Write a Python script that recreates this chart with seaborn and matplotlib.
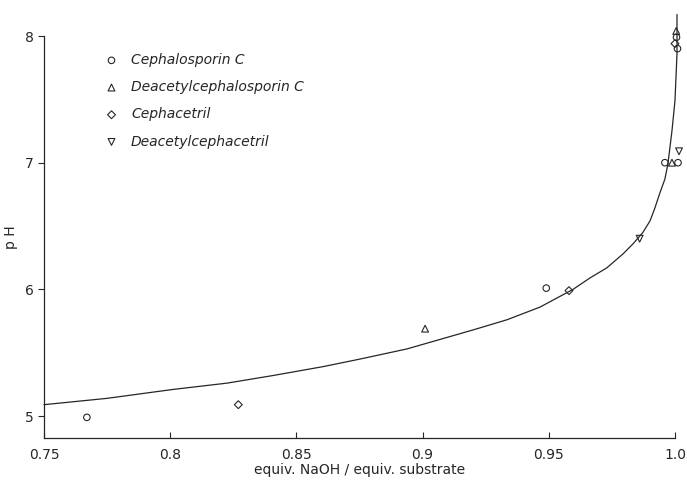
import matplotlib
matplotlib.use("Agg")
import matplotlib.pyplot as plt
import seaborn as sns

# titration curve
curve_x = [0.75, 0.775, 0.801, 0.8225, 0.8407, 0.8605, 0.8752, 0.8938, 0.92, 0.9334,
           0.9465, 0.9596, 0.9663, 0.973, 0.9794, 0.9834, 0.9873, 0.9901, 0.992,
           0.994, 0.996, 0.9972, 0.9988, 1.0, 1.0008, 1.0008]
curve_y = [5.09, 5.14, 5.21, 5.26, 5.32, 5.39, 5.45, 5.53, 5.68, 5.76,
           5.86, 6.0, 6.09, 6.17, 6.28, 6.36, 6.45, 6.54, 6.64,
           6.76, 6.87, 6.99, 7.25, 7.49, 7.86, 8.17]

# measured points
ceph_c_x = [0.767, 0.949, 0.996, 1.0012, 1.0006, 1.001]
ceph_c_y = [4.99, 6.01, 7.0, 7.0, 7.99, 7.90]
deac_c_x = [0.901, 0.9988, 1.0005]
deac_c_y = [5.69, 7.0, 8.04]
cephacetril_x = [0.827, 0.958, 1.0]
cephacetril_y = [5.09, 5.99, 7.94]
deac_cephacetril_x = [0.986, 1.0016]
deac_cephacetril_y = [6.40, 7.09]

xticks = [0.75, 0.8, 0.85, 0.9, 0.95, 1.0]
xtick_labels = ["0.75", "0.8", "0.85", "0.9", "0.95", "1.0"]
yticks = [5, 6, 7, 8]

sns.set_style("ticks")
plt.rcParams['font.family'] = ['DejaVu Sans']
ink = "#262626"

fig = plt.figure(figsize=(6.87, 4.80), dpi=100)
ax = fig.add_axes([0.064, 0.0875, 0.9185, 0.8375])

sns.lineplot(x=curve_x, y=curve_y, sort=False, estimator=None, color=ink,
             linewidth=0.9, ax=ax, clip_on=False)

series = [
    ("Cephalosporin C", ceph_c_x, ceph_c_y, "o", 22),
    ("Deacetylcephalosporin C", deac_c_x, deac_c_y, "^", 24),
    ("Cephacetril", cephacetril_x, cephacetril_y, "D", 16),
    ("Deacetylcephacetril", deac_cephacetril_x, deac_cephacetril_y, "v", 24),
]
for name, xs, ys, mk, sz in series:
    sns.scatterplot(x=xs, y=ys, marker=mk, s=sz, facecolor="none",
                    edgecolor=ink, linewidth=0.8, label=name, ax=ax,
                    clip_on=False, zorder=3)

ax.set_xlim(0.75, 1.0)
ax.set_ylim(4.827, 8.0)
ax.set_xticks(xticks)
ax.set_xticklabels(xtick_labels)
ax.set_yticks(yticks)
ax.tick_params(axis="x", direction="in", length=4, width=0.8, colors=ink,
               labelsize=10, pad=7)
ax.tick_params(axis="y", direction="out", length=4, width=0.8, colors=ink,
               labelsize=10)
sns.despine(ax=ax)
for s in ["left", "bottom"]:
    ax.spines[s].set_linewidth(0.9)
    ax.spines[s].set_color(ink)

ax.set_xlabel("equiv. NaOH / equiv. substrate", fontsize=10, color=ink, labelpad=1)
ax.set_ylabel("p H", fontsize=10, color=ink, labelpad=5)

leg = ax.legend(loc="upper left", bbox_to_anchor=(0.085, 0.975), frameon=False,
                handlelength=1.0, handletextpad=0.9, labelspacing=0.95,
                borderpad=0, prop={"size": 10, "style": "oblique"})
for t in leg.get_texts():
    t.set_color(ink)

fig.savefig("out.png", dpi=100)
